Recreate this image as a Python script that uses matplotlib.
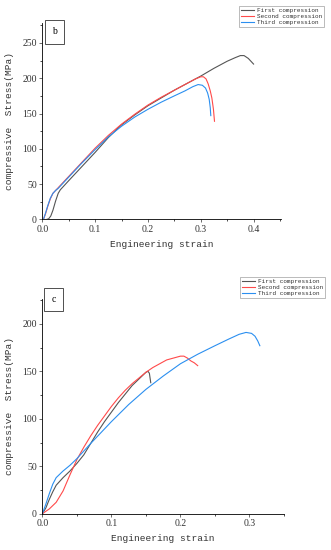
import numpy as np
import matplotlib.pyplot as plt
from matplotlib.ticker import MultipleLocator

# panel b data (strain, stress MPa)
b_first_x = [0.008, 0.012, 0.016, 0.020, 0.025, 0.030, 0.034, 0.05, 0.075, 0.1, 0.125, 0.15, 0.175, 0.2, 0.225, 0.25, 0.275, 0.3, 0.325, 0.35, 0.365, 0.375, 0.382, 0.39, 0.4]
b_first_y = [0, 1, 5, 13, 26, 37, 42, 55, 75, 95, 116, 134, 148, 161, 172, 183, 193, 203, 214, 224, 229, 232, 232, 228, 220]
b_second_x = [0.002, 0.006, 0.010, 0.015, 0.020, 0.025, 0.03, 0.05, 0.075, 0.1, 0.125, 0.15, 0.175, 0.2, 0.225, 0.25, 0.275, 0.29, 0.3, 0.305, 0.31, 0.314, 0.318, 0.321, 0.324, 0.326]
b_second_y = [0, 8, 18, 29, 37, 41, 45, 61, 81, 101, 119, 135, 149, 162, 173, 183, 193, 199, 202, 202, 199, 192, 182, 172, 156, 139]
b_third_x = [0.002, 0.006, 0.010, 0.015, 0.020, 0.025, 0.03, 0.05, 0.075, 0.1, 0.125, 0.15, 0.175, 0.2, 0.225, 0.25, 0.27, 0.285, 0.295, 0.303, 0.309, 0.313, 0.316, 0.318, 0.319]
b_third_y = [0, 9, 19, 30, 37, 41, 44, 60, 80, 99, 117, 132, 145, 156, 166, 175, 182, 188, 191, 190, 186, 179, 170, 158, 147]

# panel c data
c_first_x = [0.0, 0.005, 0.01, 0.015, 0.02, 0.03, 0.04, 0.05, 0.06, 0.07, 0.08, 0.09, 0.1, 0.11, 0.12, 0.13, 0.14, 0.15, 0.153, 0.155, 0.156, 0.157]
c_first_y = [0, 6, 15, 23, 30, 38, 45, 53, 62, 74, 86, 97, 107, 117, 126, 135, 142, 149, 150, 148, 143, 138]
c_second_x = [0.0, 0.01, 0.02, 0.03, 0.04, 0.05, 0.06, 0.07, 0.08, 0.09, 0.1, 0.11, 0.12, 0.13, 0.14, 0.15, 0.16, 0.17, 0.18, 0.19, 0.2, 0.205, 0.21, 0.215, 0.22, 0.225]
c_second_y = [0, 5, 12, 24, 41, 57, 70, 82, 93, 103, 113, 122, 130, 137, 143, 149, 154, 158, 162, 164, 166, 166, 164, 161, 159, 156]
c_third_x = [0.0, 0.005, 0.01, 0.015, 0.02, 0.03, 0.04, 0.05, 0.07, 0.1, 0.125, 0.15, 0.175, 0.2, 0.225, 0.25, 0.27, 0.285, 0.295, 0.303, 0.308, 0.312, 0.315]
c_third_y = [0, 10, 21, 31, 38, 45, 51, 58, 74, 97, 115, 131, 145, 158, 168, 177, 184, 189, 191, 190, 187, 182, 177]

labels = ['First compression', 'Second compression', 'Third compression']
colors = ['#555555', '#ff4a4a', '#2b8ff0']

plt.rcParams['font.family'] = ['Liberation Serif', 'DejaVu Serif']
plt.rcParams['axes.linewidth'] = 0.6

fig = plt.figure(figsize=(3.31, 5.5), dpi=100)
ax1 = fig.add_axes([0.128, 0.601, 0.721, 0.357])
ax2 = fig.add_axes([0.128, 0.066, 0.730, 0.390])

panels = [
    (ax1, [(b_first_x, b_first_y), (b_second_x, b_second_y), (b_third_x, b_third_y)],
     (0, 0.452), (0, 278), 0.1, 50, 'b', (324, 6), (54.5, 32)),
    (ax2, [(c_first_x, c_first_y), (c_second_x, c_second_y), (c_third_x, c_third_y)],
     (0, 0.35), (0, 226), 0.1, 50, 'c', (325, 277), (53.7, 299.5)),
]

for ax, series, xl, yl, xs, ys, tag, legpos, tagpos in panels:
    for (x, y), lab, c in zip(series, labels, colors):
        ax.plot(x, y, color=c, lw=0.8, label=lab)
    ax.set_xlim(*xl)
    ax.set_ylim(*yl)
    ax.spines['top'].set_visible(False)
    ax.spines['right'].set_visible(False)
    ax.xaxis.set_major_locator(MultipleLocator(xs))
    ax.xaxis.set_minor_locator(MultipleLocator(xs / 2))
    ax.yaxis.set_major_locator(MultipleLocator(ys))
    ax.yaxis.set_minor_locator(MultipleLocator(ys / 2))
    ax.tick_params(which='major', direction='out', length=2.5, width=0.5, labelsize=7, pad=1.5, colors='#333333')
    ax.tick_params(which='minor', direction='out', length=1.5, width=0.5)
    ax.set_xticklabels([f'{v:.1f}' for v in ax.get_xticks()])
    ax.set_xlabel('Engineering strain', family='Liberation Mono', fontsize=6.8, color='#333333', labelpad=4)
    ax.set_ylabel('compressive  Stress(MPa)', family='Liberation Mono', fontsize=6.8, color='#333333', labelpad=6)
    leg = ax.legend(loc='upper right', bbox_to_anchor=(legpos[0] / 331, 1 - legpos[1] / 550),
                    bbox_transform=fig.transFigure, prop={'family': 'Liberation Mono', 'size': 4.3},
                    frameon=True, fancybox=False, borderpad=0.3, labelspacing=0.15, handlelength=2.2,
                    handletextpad=0.5, borderaxespad=0)
    leg.get_frame().set_edgecolor('#888888')
    leg.get_frame().set_linewidth(0.5)
    for t in leg.get_texts():
        t.set_color('#333333')
    fig.text(tagpos[0] / 331, 1 - tagpos[1] / 550, tag, ha='center', va='center', fontsize=7,
             bbox=dict(boxstyle='square,pad=0.75', fc='white', ec='#333333', lw=0.6))

fig.savefig('out.png', dpi=100)
